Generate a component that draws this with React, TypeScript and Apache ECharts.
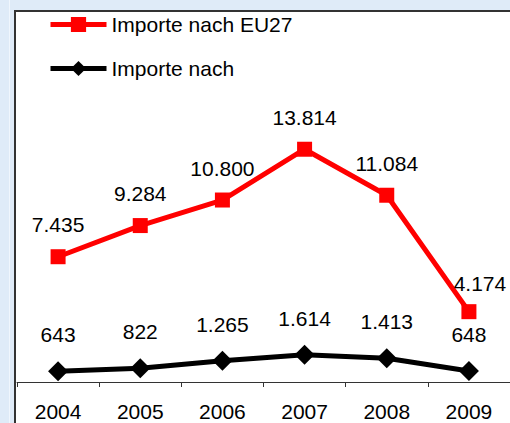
import React, { useEffect, useRef } from "react";
import * as echarts from "echarts";

const years = ["2004", "2005", "2006", "2007", "2008", "2009"];
const euImports = [7435, 9284, 10800, 13814, 11084, 4174];
const otherImports = [643, 822, 1265, 1614, 1413, 648];
const seriesNames = ["Importe nach EU27", "Importe nach"];

const FONT = "'Liberation Sans', Arial, sans-serif";
const fmt = (v: number) => {
  const s = String(Math.round(v));
  return s.replace(/\B(?=(\d{3})+(?!\d))/g, ".");
};

export default function App() {
  const ref = useRef<HTMLDivElement>(null);
  useEffect(() => {
    document.body.style.margin = "0";
    if (!ref.current) return;
    const chart = echarts.init(ref.current, undefined, { renderer: "svg" });
    const euData = euImports.map((v, i) =>
      i === euImports.length - 1
        ? { value: v, label: { offset: [11, 4] } }
        : { value: v }
    );
    chart.setOption({
      animation: false,
      backgroundColor: "#dfebf8",
      textStyle: { fontFamily: FONT },
      graphic: [
        {
          type: "line",
          z: -10,
          shape: { x1: 9.5, y1: 0, x2: 9.5, y2: 423 },
          style: { stroke: "#f0f6fd", lineWidth: 1 },
          silent: true,
        },
        {
          type: "rect",
          z: -10,
          shape: { x: 15, y: 11, width: 520, height: 430 },
          style: { fill: "#ffffff", stroke: "#333333", lineWidth: 2 },
          silent: true,
        },
      ],
      legend: {
        orient: "vertical",
        left: 48,
        top: 14,
        padding: 0,
        itemWidth: 56,
        itemHeight: 19,
        itemGap: 23,
        data: seriesNames,
        textStyle: { fontSize: 21, color: "#000", fontFamily: FONT },
        lineStyle: { width: 5 },
      },
      grid: { left: 17, width: 495, top: 45, bottom: 41 },
      xAxis: {
        type: "category",
        data: years,
        boundaryGap: true,
        axisLine: { show: true, lineStyle: { color: "#333", width: 1 } },
        axisTick: { show: true, length: 5, alignWithLabel: false, lineStyle: { color: "#333" } },
        axisLabel: { fontSize: 21, color: "#000", margin: 19, fontFamily: FONT },
        splitLine: { show: false },
      },
      yAxis: {
        type: "value",
        min: 0,
        max: 20000,
        show: false,
        splitLine: { show: false },
      },
      series: [
        {
          name: seriesNames[0],
          type: "line",
          data: euData,
          symbol: "rect",
          symbolSize: 15,
          lineStyle: { color: "#ff0000", width: 5 },
          itemStyle: { color: "#ff0000" },
          label: {
            show: true,
            position: "top",
            distance: 14,
            fontSize: 21,
            color: "#000",
            fontFamily: FONT,
            formatter: (p: any) => fmt(p.value),
          },
        },
        {
          name: seriesNames[1],
          type: "line",
          data: otherImports,
          symbol: "diamond",
          symbolSize: 20,
          lineStyle: { color: "#000000", width: 5 },
          itemStyle: { color: "#000000" },
          label: {
            show: true,
            position: "top",
            distance: 16,
            fontSize: 21,
            color: "#000",
            fontFamily: FONT,
            formatter: (p: any) => fmt(p.value),
          },
        },
      ],
    });
    return () => chart.dispose();
  }, []);
  return <div ref={ref} style={{ width: 510, height: 423 }} />;
}
